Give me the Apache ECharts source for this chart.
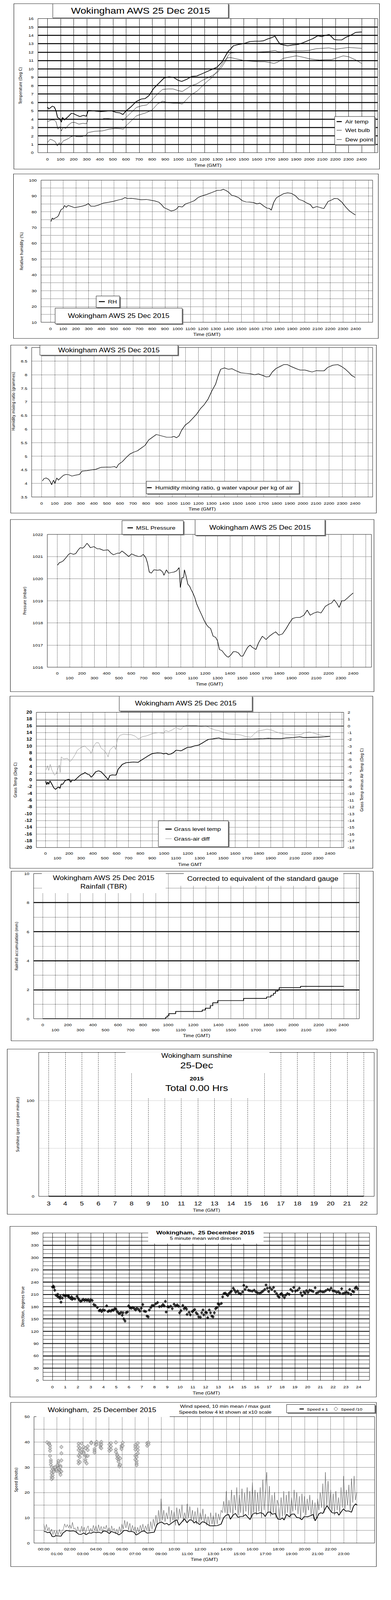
<!DOCTYPE html>
<html><head><meta charset="utf-8">
<meta name="viewport" content="width=1000, initial-scale=1">
<script src="https://cdn.jsdelivr.net/npm/echarts@6.0.0/dist/echarts.min.js"></script>
<style>
html,body{margin:0;padding:0;background:#fff;}
body{width:1000px;height:4096px;position:relative;overflow:hidden;}
/* The visible window is only 4096px tall: the 1000x5000 layout is fitted into it. */
#root{position:absolute;left:0;top:0;width:1000px;height:5000px;transform-origin:0 0;background:#fff;}
.box{position:absolute;border:1px solid #000;box-sizing:border-box;background:#fff;}
</style></head><body>
<div id="root"></div>
<script>
(function () {
  const h = window.innerHeight || 5000;
  const s = Math.min(1, h / 5000);
  document.getElementById('root').style.transform = 'scale(1,' + s + ')';
  document.body.style.height = Math.min(h, 5000) + 'px';
})();
// ---------------- DATA ----------------
const TICK100 = [0,100,200,300,400,500,600,700,800,900,1000,1100,1200,1300,1400,1500,1600,1700,1800,1900,2000,2100,2200,2300,2400];
const GRID100 = [0,100,200,300,400,500,600,700,800,900,1000,1100,1200,1300,1400,1500,1600,1700,1800,1900,2000,2100,2200,2300,2400,2500];
const HOURS_0_24 = [0,1,2,3,4,5,6,7,8,9,10,11,12,13,14,15,16,17,18,19,20,21,22,23,24];
const HOURS_0_23 = [0,1,2,3,4,5,6,7,8,9,10,11,12,13,14,15,16,17,18,19,20,21,22,23];
const SUN_HOURS = [3,4,5,6,7,8,9,10,11,12,13,14,15,16,17,18,19,20,21,22];

// Chart 1: temperatures [time GMT, deg C]
const AIR_TEMP = [[0,5.45],[10,5.2],[37,5.55],[52,5.45],[65,5.0],[77,4.2],[90,4.1],[106,3.65],[115,4.2],[129,3.9],[143,4.1],[158,4.3],[183,4.7],[200,4.65],[225,4.45],[248,4.3],[274,4.45],[297,4.35],[312,5.05],[340,5.0],[370,4.95],[408,4.9],[447,4.95],[486,5.0],[524,4.8],[553,4.75],[576,4.55],[601,5.0],[640,5.5],[678,6.1],[717,6.4],[746,6.45],[775,6.8],[813,7.7],[852,8.3],[890,8.9],[929,9.05],[967,8.95],[996,8.65],[1025,8.5],[1064,8.75],[1102,9.1],[1141,9.15],[1179,9.4],[1237,9.8],[1295,10.2],[1333,10.8],[1362,11.6],[1381,12.1],[1401,12.4],[1420,12.75],[1459,12.9],[1497,13.0],[1545,13.25],[1584,13.3],[1622,13.3],[1651,13.35],[1680,13.55],[1709,13.7],[1738,13.9],[1757,13.4],[1776,12.95],[1805,12.85],[1834,12.75],[1873,12.85],[1911,12.9],[1950,13.1],[1988,13.35],[2027,13.6],[2065,13.95],[2094,13.85],[2123,14.0],[2152,14.1],[2172,13.8],[2191,13.5],[2220,13.45],[2249,13.45],[2278,13.75],[2316,14.0],[2355,14.35],[2400,14.4]];
const WET_BULB = [[0,3.7],[30,3.9],[50,3.9],[65,3.7],[80,2.8],[95,3.1],[106,2.6],[120,3.0],[140,2.9],[160,3.3],[185,3.6],[210,3.6],[240,3.4],[270,3.5],[297,3.45],[312,4.0],[360,4.0],[400,3.95],[440,4.1],[480,4.05],[520,4.0],[560,4.0],[576,3.85],[600,4.2],[640,4.8],[680,5.4],[720,5.6],[760,5.7],[800,6.3],[840,7.0],[880,7.55],[920,7.6],[960,7.6],[1000,7.4],[1030,7.3],[1060,7.6],[1100,8.0],[1140,8.2],[1180,8.6],[1220,8.9],[1260,9.2],[1300,9.6],[1330,10.2],[1360,10.9],[1380,11.6],[1400,11.9],[1440,11.95],[1500,12.0],[1600,12.0],[1660,12.05],[1700,12.1],[1740,12.2],[1760,12.05],[1800,12.0],[1850,12.1],[1900,12.15],[1950,12.15],[2000,12.2],[2050,12.4],[2100,12.45],[2150,12.5],[2200,12.35],[2250,12.45],[2300,12.55],[2350,12.5],[2400,12.45]];
const DEW_POINT = [[0,1.2],[20,1.6],[40,1.5],[60,1.3],[75,0.8],[90,1.2],[100,0.9],[120,1.4],[150,1.6],[180,1.9],[200,2.0],[230,1.9],[260,1.9],[290,2.05],[310,2.4],[360,2.55],[420,2.6],[470,2.8],[520,2.9],[560,2.85],[580,2.8],[600,3.2],[640,3.8],[680,4.4],[720,4.6],[760,4.8],[800,5.1],[840,5.8],[880,6.15],[920,5.95],[960,5.9],[1000,5.9],[1030,5.8],[1060,6.3],[1100,6.95],[1140,7.3],[1180,7.9],[1220,8.5],[1260,9.0],[1300,9.8],[1340,10.7],[1370,11.3],[1400,11.35],[1440,11.2],[1500,11.0],[1560,10.9],[1620,10.85],[1660,10.85],[1700,10.75],[1730,10.65],[1760,10.8],[1800,11.25],[1850,11.4],[1900,11.55],[1950,11.4],[2000,11.2],[2050,11.1],[2080,11.05],[2120,11.1],[2170,11.1],[2220,11.35],[2260,11.55],[2300,11.45],[2350,11.1],[2400,10.65]];

// Chart 2: relative humidity [time, %]
const RH = [[4,73.8],[14,76],[24,75.3],[36,76],[50,76.5],[63,77.5],[75,80],[85,81.5],[99,82],[111,84],[123,82.8],[139,84],[159,83.5],[188,82.6],[218,83.0],[248,83.5],[278,84.2],[298,85.2],[317,83.5],[347,83.5],[377,84.2],[417,85.5],[456,86],[496,86.6],[536,87.5],[565,88],[585,89],[605,88.4],[635,88.5],[675,88.1],[714,87.6],[754,87.8],[794,87.2],[823,86.8],[853,86.0],[873,84.5],[893,82.6],[923,81.5],[948,80.5],[972,80.9],[992,81.8],[1008,83.4],[1036,83],[1061,84.9],[1101,86.0],[1131,87],[1161,89],[1190,90],[1230,91],[1270,92.2],[1310,93.5],[1339,93.6],[1359,94.2],[1379,93.5],[1399,92.5],[1425,90.4],[1448,90.0],[1478,89],[1508,87],[1538,86.2],[1567,86.1],[1597,85.8],[1623,85],[1647,85.5],[1677,83.6],[1702,82.3],[1722,82.1],[1736,81],[1756,86],[1776,88.8],[1806,90.2],[1835,91.5],[1865,92],[1895,91.6],[1925,90.2],[1954,87.8],[1984,87],[2014,85.6],[2044,84.5],[2063,82.4],[2093,83.3],[2123,82.6],[2149,82],[2183,86.5],[2212,87.5],[2232,88.4],[2258,88.3],[2292,86],[2321,83],[2351,80.5],[2377,79],[2397,78]];

// Chart 3: humidity mixing ratio [time, g/kg]
const MIX_RATIO = [[6,4.09],[19,4.18],[35,4.2],[54,4.15],[68,4.05],[77,3.95],[91,4.12],[102,4.0],[116,4.2],[129,4.12],[145,4.2],[168,4.3],[187,4.33],[207,4.32],[232,4.27],[257,4.3],[290,4.33],[309,4.45],[347,4.47],[386,4.5],[415,4.52],[454,4.59],[492,4.6],[531,4.6],[560,4.62],[573,4.57],[589,4.7],[618,4.8],[647,4.95],[676,5.08],[705,5.15],[734,5.2],[763,5.3],[792,5.4],[820,5.6],[849,5.7],[878,5.8],[917,5.75],[956,5.7],[994,5.7],[1014,5.73],[1033,5.68],[1052,5.75],[1071,5.95],[1100,6.15],[1129,6.25],[1158,6.4],[1187,6.55],[1216,6.75],[1245,6.9],[1274,7.1],[1303,7.4],[1332,7.65],[1351,7.95],[1371,8.2],[1400,8.25],[1429,8.2],[1458,8.22],[1486,8.15],[1525,8.07],[1564,8.05],[1602,8.03],[1631,8.0],[1660,8.03],[1689,7.98],[1718,7.92],[1743,7.93],[1766,8.1],[1795,8.23],[1824,8.3],[1853,8.37],[1882,8.37],[1911,8.3],[1950,8.22],[1979,8.17],[2017,8.17],[2046,8.13],[2071,8.1],[2104,8.15],[2133,8.14],[2162,8.14],[2191,8.27],[2230,8.35],[2268,8.37],[2297,8.3],[2326,8.2],[2355,8.07],[2374,7.97],[2400,7.9]];

// Chart 4: MSL pressure [time, mbar]
const PRESSURE = [[2,1020.61],[16,1020.72],[31,1020.75],[47,1020.8],[63,1020.9],[78,1021.0],[92,1021.1],[108,1021.15],[129,1021.1],[149,1021.13],[170,1021.3],[186,1021.4],[207,1021.38],[221,1021.45],[241,1021.6],[256,1021.5],[268,1021.4],[297,1021.45],[323,1021.35],[344,1021.35],[374,1021.28],[411,1021.3],[436,1021.15],[456,1021.08],[487,1021.15],[507,1021.15],[524,1021.25],[548,1021.15],[579,1021.0],[603,1021.12],[630,1021.05],[661,1021.0],[681,1021.02],[697,1021.1],[718,1020.95],[732,1020.7],[746,1020.3],[763,1020.25],[783,1020.4],[814,1020.38],[834,1020.4],[855,1020.3],[865,1020.15],[885,1020.4],[902,1020.25],[926,1020.28],[947,1020.3],[967,1020.35],[988,1020.5],[998,1019.6],[1012,1020.05],[1025,1020.05],[1031,1020.4],[1045,1020.1],[1059,1019.75],[1074,1019.65],[1086,1019.5],[1100,1019.35],[1115,1019.15],[1131,1018.85],[1151,1018.6],[1172,1018.35],[1192,1018.1],[1213,1017.9],[1229,1017.8],[1243,1017.75],[1264,1017.4],[1284,1017.35],[1299,1017.2],[1315,1016.8],[1335,1016.75],[1356,1016.6],[1372,1016.5],[1387,1016.45],[1407,1016.55],[1427,1016.7],[1448,1016.7],[1468,1016.65],[1489,1016.5],[1505,1016.5],[1524,1016.7],[1544,1016.9],[1564,1017.0],[1581,1016.9],[1611,1016.8],[1632,1017.1],[1663,1017.4],[1693,1017.25],[1720,1017.4],[1744,1017.5],[1771,1017.6],[1796,1017.45],[1826,1017.5],[1857,1017.75],[1883,1018.0],[1908,1018.2],[1939,1018.25],[1969,1018.25],[2000,1018.35],[2027,1018.58],[2051,1018.35],[2082,1018.45],[2112,1018.5],[2139,1018.45],[2174,1018.75],[2204,1018.85],[2225,1018.9],[2245,1019.05],[2266,1018.9],[2286,1018.7],[2307,1019.0],[2327,1019.0],[2358,1019.15],[2378,1019.25],[2399,1019.35]];

// Chart 5: grass temperature (left axis) and grass-air difference (right axis)
const GRASS_TEMP = [[2,-0.33],[11,-1.4],[19,-0.6],[27,-1.3],[38,-0.3],[48,-0.9],[59,-1.6],[69,-2.3],[84,-2.8],[97,-2.4],[112,-2.1],[122,-2.5],[133,-1.2],[145,-1.3],[164,-0.3],[185,0.1],[200,0.2],[213,-0.7],[227,0.0],[244,-0.2],[259,0.3],[280,1.0],[301,1.6],[322,1.9],[333,2.2],[354,1.7],[371,1.5],[385,0.8],[402,1.4],[423,2.4],[448,2.7],[469,2.4],[491,1.6],[512,0.8],[528,0.1],[543,1.3],[564,1.5],[592,1.4],[600,1.8],[613,3.2],[627,3.7],[648,4.6],[680,5.1],[712,5.2],[743,5.3],[781,5.2],[806,5.8],[838,6.5],[869,7.2],[901,7.8],[943,8.0],[975,7.95],[996,7.7],[1017,7.9],[1038,7.5],[1059,7.7],[1080,8.1],[1101,8.8],[1122,8.7],[1143,8.6],[1164,9.0],[1196,9.6],[1227,9.7],[1259,10.1],[1291,10.3],[1322,10.9],[1354,11.6],[1375,12.0],[1406,12.1],[1438,12.3],[1463,12.4],[1491,12.1],[1543,12.05],[1606,11.95],[1669,12.05],[1754,12.1],[1838,12.2],[1880,12.3],[1922,12.2],[1985,12.2],[2027,12.4],[2091,12.55],[2143,12.75],[2175,12.55],[2238,12.6],[2301,12.65],[2354,12.75],[2400,12.9]];
const GRASS_AIR_DIFF = [[6,-6.5],[17,-5.9],[27,-6.6],[40,-5.7],[53,-6.5],[65,-6.9],[76,-7.3],[91,-7.1],[105,-6.3],[116,-5.8],[124,-6.9],[133,-4.6],[154,-4.9],[185,-4.8],[206,-5.3],[227,-4.9],[248,-4.3],[269,-3.6],[291,-3.3],[312,-3.1],[333,-3.0],[354,-3.4],[375,-3.7],[385,-4.1],[406,-3.0],[427,-2.5],[448,-2.5],[469,-3.3],[491,-3.6],[512,-4.0],[528,-4.6],[543,-3.6],[564,-3.2],[579,-3.0],[592,-3.5],[606,-2.0],[627,-1.4],[659,-1.25],[691,-1.3],[722,-1.3],[754,-1.5],[785,-1.95],[817,-1.6],[848,-1.5],[880,-1.3],[912,-1.1],[954,-1.0],[996,-1.1],[1013,-0.7],[1038,-0.85],[1069,-0.6],[1101,-0.2],[1122,-0.45],[1143,-0.55],[1164,-0.1],[1196,0.1],[1227,0.05],[1269,0.05],[1312,-0.1],[1354,0.0],[1385,-0.3],[1427,-0.6],[1459,-0.7],[1501,-0.95],[1543,-1.2],[1596,-1.25],[1648,-1.35],[1691,-1.6],[1733,-1.7],[1754,-1.3],[1785,-0.8],[1827,-0.65],[1869,-0.5],[1912,-0.65],[1943,-0.9],[1985,-1.1],[2027,-1.25],[2069,-1.3],[2112,-1.35],[2154,-1.3],[2185,-1.0],[2227,-0.9],[2269,-1.1],[2311,-1.35],[2354,-1.5],[2396,-1.55]];

// Chart 6: rainfall accumulation [time, mm]
const RAIN_ACCUM = [[0,0],[980,0.1],[992,0.2],[1006,0.35],[1060,0.5],[1272,0.6],[1296,0.72],[1336,0.9],[1356,1.1],[1396,1.25],[1602,1.4],[1786,1.5],[1820,1.62],[1840,1.75],[1856,1.9],[1876,2.0],[1886,2.14],[2056,2.23],[2400,2.23]];

// Chart 7: sunshine (per cent per minute), by hour
const SUNSHINE = [0,0,0,0,0,0,0,0,0,0,0,0,0,0,0,0,0,0,0,0];

// Chart 8: 5 minute mean wind direction [hour, degrees]
const WIND_DIR = [[0.0,228],[0.08,230],[0.12,227],[0.18,220],[0.28,208],[0.4,205],[0.42,210],[0.5,203],[0.6,200],[0.62,205],[0.67,191],[0.77,201],[0.87,208],[0.99,206],[1.07,207],[1.23,205],[1.25,207],[1.32,203],[1.42,200],[1.5,204],[1.54,198],[1.62,200],[1.76,199],[1.92,205],[2.02,200],[2.11,196],[2.21,193],[2.31,195],[2.41,198],[2.51,195],[2.61,197],[2.71,195],[2.81,197],[2.91,193],[3.0,197],[3.12,195],[3.24,185],[3.36,183],[3.52,178],[3.66,170],[3.75,172],[3.85,168],[3.95,172],[4.09,171],[4.25,182],[4.35,168],[4.45,170],[4.58,169],[4.68,172],[4.78,171],[4.88,175],[4.98,174],[5.08,168],[5.18,164],[5.28,163],[5.38,166],[5.47,159],[5.53,165],[5.59,150],[5.69,145],[5.77,165],[5.87,167],[5.97,182],[6.07,178],[6.17,176],[6.3,178],[6.42,175],[6.52,172],[6.62,176],[6.76,173],[6.86,169],[6.96,176],[7.08,185],[7.19,169],[7.31,168],[7.41,157],[7.51,155],[7.59,172],[7.71,178],[7.81,183],[7.94,183],[8.1,187],[8.24,190],[8.38,180],[8.54,181],[8.66,185],[8.76,182],[8.85,193],[8.91,167],[9.03,180],[9.13,179],[9.27,181],[9.39,175],[9.53,186],[9.66,182],[9.78,184],[9.88,181],[9.96,165],[10.08,170],[10.22,183],[10.32,175],[10.42,178],[10.51,174],[10.55,161],[10.71,166],[10.81,160],[10.95,168],[11.05,170],[11.15,173],[11.26,165],[11.36,162],[11.46,155],[11.6,154],[11.7,165],[11.8,172],[11.86,160],[12.0,166],[12.09,165],[12.17,153],[12.29,172],[12.39,165],[12.49,157],[12.59,155],[12.69,165],[12.79,175],[12.89,178],[12.98,187],[13.08,185],[13.24,188],[13.34,204],[13.44,212],[13.54,213],[13.64,210],[13.74,207],[13.83,212],[13.93,215],[14.03,218],[14.17,225],[14.27,220],[14.37,215],[14.51,218],[14.62,213],[14.76,211],[14.9,216],[15.0,232],[15.1,222],[15.22,228],[15.36,220],[15.49,219],[15.65,218],[15.81,220],[15.95,216],[16.09,214],[16.25,213],[16.38,215],[16.5,218],[16.64,222],[16.74,233],[16.84,225],[16.94,217],[17.04,226],[17.19,222],[17.33,227],[17.43,217],[17.57,212],[17.67,206],[17.77,203],[17.87,210],[17.96,212],[18.06,207],[18.18,202],[18.28,208],[18.42,212],[18.56,210],[18.68,222],[18.81,218],[18.91,227],[19.05,218],[19.21,220],[19.35,225],[19.47,214],[19.57,207],[19.7,216],[19.8,213],[19.9,219],[20.04,215],[20.16,220],[20.3,219],[20.43,217],[20.59,226],[20.69,213],[20.83,215],[20.99,218],[21.15,216],[21.28,216],[21.42,219],[21.58,222],[21.72,220],[21.84,225],[21.98,219],[22.12,218],[22.27,215],[22.41,216],[22.53,213],[22.67,224],[22.77,212],[22.92,214],[23.06,215],[23.2,213],[23.3,222],[23.4,210],[23.52,218],[23.62,216],[23.72,225],[23.81,228],[23.91,224]];

// Chart 9: wind speed, knots
const WIND_MEAN = [[0,4.6],[0.15,4.5],[0.29,4.1],[0.44,4.3],[0.54,3.7],[0.64,2.6],[0.77,2.5],[0.93,2.9],[1.12,2.8],[1.32,2.7],[1.47,4.0],[1.61,4.5],[1.74,5.0],[1.99,4.7],[2.28,4.8],[2.48,4.4],[2.67,3.5],[2.86,3.4],[3.06,4.0],[3.25,3.3],[3.44,4.0],[3.64,3.9],[3.83,4.4],[4.02,4.1],[4.22,4.3],[4.41,3.9],[4.6,4.8],[4.8,4.6],[5.03,3.7],[5.18,4.6],[5.38,4.2],[5.57,3.9],[5.76,3.2],[5.96,3.9],[6.15,5.0],[6.34,5.0],[6.54,4.5],[6.73,4.6],[6.92,4.3],[7.08,3.2],[7.27,3.7],[7.5,4.6],[7.7,4.8],[7.93,3.9],[8.18,4.1],[8.47,4.3],[8.67,7.3],[8.86,8.0],[9.05,8.3],[9.25,7.5],[9.44,7.8],[9.59,7.1],[9.83,8.0],[10.02,8.7],[10.21,9.2],[10.37,7.0],[10.6,8.4],[10.79,9.6],[10.99,8.0],[11.18,9.2],[11.37,9.0],[11.53,7.9],[11.66,8.5],[11.95,7.3],[12.15,8.4],[12.34,8.2],[12.53,7.5],[12.73,6.8],[13.02,6.8],[13.31,6.9],[13.6,7.5],[13.79,10.0],[13.98,11.0],[14.18,11.3],[14.31,9.4],[14.51,11.0],[14.7,11.7],[14.89,10.2],[15.09,10.5],[15.28,10.5],[15.47,11.3],[15.67,10.1],[15.82,9.3],[16.02,11.4],[16.21,11.9],[16.4,11.6],[16.6,12.0],[16.83,11.6],[16.98,10.5],[17.18,12.2],[17.37,12.3],[17.52,11.4],[17.76,11.7],[17.95,9.5],[18.14,9.3],[18.3,10.0],[18.43,9.1],[18.63,11.4],[18.82,10.4],[19.01,11.4],[19.21,11.5],[19.4,10.1],[19.59,10.0],[19.79,9.2],[19.98,10.5],[20.23,10.4],[20.46,10.8],[20.66,11.3],[20.81,8.8],[20.95,10.0],[21.09,11.5],[21.25,12.0],[21.4,11.7],[21.53,13.0],[21.72,14.8],[21.91,13.3],[22.11,12.0],[22.3,11.8],[22.5,12.2],[22.63,11.0],[22.79,12.2],[22.98,13.5],[23.17,12.6],[23.37,12.7],[23.6,12.2],[23.75,14.5],[23.91,15.5],[24.04,15.0]];
// max gust, every 0.1 hour from 00:00
const GUST_STEP_H = 0.1;
const WIND_GUST = [
7.5,5.2,7.4,5.0,6.2,4.2,5.5,3.3,5.0,3.0,
5.0,3.2,5.4,3.5,4.8,5.5,7.6,6.2,7.3,6.0,
7.2,5.8,8.2,5.5,6.0,4.0,6.5,5.0,4.2,6.7,
4.5,6.3,3.6,5.8,6.8,4.2,5.8,4.5,7.0,5.0,
6.8,4.5,7.2,5.0,6.6,4.2,6.5,5.5,7.0,4.5,
6.2,4.0,6.8,5.0,5.8,3.6,5.5,3.8,6.5,4.2,
7.5,5.5,9.0,6.0,8.5,5.2,7.8,4.5,7.0,5.0,
6.5,3.8,6.2,4.2,7.0,5.0,7.5,4.5,6.8,5.2,
7.5,4.5,8.5,5.5,9.5,6.5,11.0,7.0,13.0,8.0,
17.5,9.0,13.0,8.5,12.0,9.5,14.5,8.0,13.0,9.0,
12.5,7.0,14.0,9.0,13.5,10.0,15.2,8.5,12.0,9.5,
15.5,10.0,14.5,9.0,13.0,8.5,12.5,7.5,14.0,8.0,
12.0,9.0,13.5,8.0,11.5,7.0,10.5,7.0,12.0,7.5,
11.0,7.0,12.0,7.5,11.5,9.0,13.0,12.0,16.5,12.0,
20.5,11.0,17.0,12.0,21.0,10.5,19.0,13.0,22.0,11.0,
19.0,12.0,21.5,10.5,20.0,12.5,22.0,11.0,20.5,10.0,
24.0,12.0,21.0,11.0,20.0,12.5,22.0,10.0,25.0,13.0,
21.0,28.0,12.0,22.5,10.5,19.0,12.0,20.0,10.0,17.0,
15.0,9.5,18.0,10.5,20.5,11.0,19.0,12.0,20.5,10.0,
18.0,12.5,21.0,13.0,20.0,11.5,18.5,9.5,19.5,12.0,
18.5,11.0,17.5,13.0,19.0,11.0,17.0,9.5,16.0,10.0,
17.5,13.0,20.0,14.0,23.5,12.0,28.0,15.0,24.5,13.5,
21.0,12.5,19.5,11.0,20.5,13.0,18.0,12.0,22.0,14.0,
26.5,13.5,21.0,15.0,23.0,13.0,25.5,16.0,26.5,17.0,
20.0];
// speeds below 4 kt shown at x10 scale [hour, speed x10]
const WIND_LOW_X10 = [[0.25,39.8],[0.41,39.5],[0.41,39.0],[0.48,38.5],[0.48,37.5],[0.48,36.5],[0.48,34.5],[0.54,32.8],[0.54,32],[0.54,31],[0.6,30],[0.6,28.5],[0.6,27.5],[0.6,26.2],[0.6,25.3],[0.68,26.8],[0.68,25.8],[0.77,29.8],[0.77,28.8],[0.77,28.2],[0.87,29.5],[0.87,30.0],[0.97,28.6],[0.97,29.2],[1.06,30.5],[1.06,31.0],[1.12,29.5],[1.12,31.8],[1.12,32.5],[1.2,29.0],[1.2,28.0],[1.28,27.0],[1.28,28.5],[1.28,30.5],[1.28,30.0],[1.35,32.7],[1.35,38.0],[1.35,35.5],[1.35,28.3],[2.67,39.3],[2.67,38.2],[2.67,36.8],[2.67,34.5],[2.67,32.5],[2.67,31.5],[2.77,37.5],[2.77,35.5],[2.77,34.0],[2.77,32.0],[2.9,39.4],[2.9,37.0],[2.9,35.8],[3.06,38.0],[3.06,36.0],[3.06,35.5],[3.19,37.5],[3.19,34.5],[3.19,33.0],[3.19,32.2],[3.29,34.5],[3.29,31.5],[3.37,38.3],[3.37,36.8],[3.37,34.5],[3.64,39.8],[3.64,39.5],[3.89,37.2],[3.89,36.5],[3.89,35.8],[3.98,39.5],[3.98,38.8],[4.06,40.0],[4.06,39.0],[4.35,39.5],[4.35,38.5],[4.35,37.8],[4.41,40.0],[4.41,39.0],[4.41,37.5],[5.03,39.0],[5.03,37.5],[5.03,36.5],[5.15,39.5],[5.15,38.2],[5.15,37.0],[5.53,39.8],[5.53,37.0],[5.53,36.0],[5.63,35.0],[5.63,34.5],[5.63,33.5],[5.73,34.0],[5.73,33.0],[5.73,32.2],[5.8,30.8],[5.8,30.3],[5.86,33.5],[5.86,31.0],[5.96,38.5],[5.96,37.8],[5.96,37.2],[6.05,39.7],[6.05,38.5],[7.02,38.8],[7.02,38.0],[7.02,37.0],[7.02,34.5],[7.02,33.0],[7.12,35.0],[7.12,34.0],[7.12,32.5],[7.12,31.5],[7.12,30.8],[7.21,39.5],[7.21,38.0],[7.21,36.8],[7.21,35.5],[7.93,38.5],[7.93,39.5],[8.03,39.7],[8.03,39.0]];

// ---------------- HELPERS ----------------
const F = "'Liberation Sans', Arial, Helvetica, sans-serif";
const FN = "'DejaVu Sans', Verdana, sans-serif";
const ROOT = document.getElementById('root');

function panel(L, T, W, H) {
  const d = document.createElement('div');
  d.className = 'box';
  d.style.left = L + 'px'; d.style.top = T + 'px';
  d.style.width = W + 'px'; d.style.height = H + 'px';
  ROOT.appendChild(d);
  const c = echarts.init(d, null, { renderer: 'svg', width: W - 2, height: H - 2 });
  return { c: c, X: v => v - L - 1, Y: v => v - T - 1 };
}
function frame(p, x0, y0, x1, y1) {
  return { left: p.X(x0), top: p.Y(y0), width: x1 - x0, height: y1 - y0, show: true,
    borderColor: '#000', borderWidth: 1, backgroundColor: 'rgba(0,0,0,0)', containLabel: false };
}
function lbl(extra) { return Object.assign({ color: '#000', fontSize: 12, fontFamily: F }, extra || {}); }
const plain = v => '' + v;
function xTime(min, max, labels, lines, margin, lineStyle, name, nameGap, fmt, lblExtra) {
  const al = lbl(Object.assign({ customValues: labels, margin: margin, lineHeight: 15 }, lblExtra || {}));
  al.formatter = fmt || plain;
  return { type: 'value', min: min, max: max,
    axisLine: { show: false }, axisTick: { show: false, customValues: lines },
    axisLabel: al, splitLine: { show: true, lineStyle: lineStyle },
    name: name, nameLocation: 'middle', nameGap: nameGap,
    nameTextStyle: { color: '#000', fontSize: 13, fontFamily: F } };
}
function yVal(min, max, interval, lineStyle, name, nameGap, fmt, lblExtra) {
  const al = lbl(Object.assign({ margin: 11 }, lblExtra || {}));
  al.formatter = fmt || plain;
  return { type: 'value', min: min, max: max, interval: interval, position: 'left',
    axisLine: { show: false }, axisTick: { show: false }, axisLabel: al,
    splitLine: { show: !!lineStyle, lineStyle: lineStyle || {}, showMinLine: false, showMaxLine: false },
    name: name, nameLocation: 'middle', nameGap: nameGap,
    nameTextStyle: { color: '#000', fontSize: 11, fontFamily: FN } };
}
function box(p, x0, y0, x1, y1, border, shadow) {
  const els = [];
  if (shadow) els.push({ type: 'rect', silent: true, z: 100,
    shape: { x: p.X(x0) + 3, y: p.Y(y0) + 3, width: x1 - x0, height: y1 - y0 }, style: { fill: '#808080' } });
  els.push({ type: 'rect', silent: true, z: 101,
    shape: { x: p.X(x0), y: p.Y(y0), width: x1 - x0, height: y1 - y0 },
    style: { fill: '#fff', stroke: border ? '#000' : null, lineWidth: 1 } });
  return els;
}
function txt(p, x, y, s, size, align, weight) {
  return { type: 'text', silent: true, z: 102, x: p.X(x), y: p.Y(y),
    style: { text: s, fill: '#000', fontSize: size, fontFamily: F, fontWeight: weight || 'normal',
      align: align || 'center', verticalAlign: 'middle' } };
}
function seg(p, x1, x2, y, w, color) {
  return { type: 'line', silent: true, z: 102,
    shape: { x1: p.X(x1), y1: p.Y(y), x2: p.X(x2), y2: p.Y(y) },
    style: { stroke: color || '#000', lineWidth: w } };
}
function lineSeries(name, data, width, color, yIdx, extra) {
  return Object.assign({ type: 'line', name: name, data: data, symbol: 'none', yAxisIndex: yIdx || 0,
    lineStyle: { color: color || '#000', width: width }, itemStyle: { color: color || '#000' },
    z: 3, animation: false }, extra || {});
}
const twoRow100 = v => ((Math.round(v / 100) % 2 === 1) ? '\n' : '') + v;
const SOLID = { color: '#000', width: 1, type: 'solid' };
const DOT = { color: '#000', width: 1, type: 'dotted' };
const TITLE = 'Wokingham AWS 25 Dec 2015';

// ---------------- CHART 1: Temperature ----------------
(function () {
  const p = panel(35, 11, 936, 518);
  p.c.setOption({
    animation: false,
    grid: frame(p, 97, 58, 966, 486),
    xAxis: xTime(-73, 2523, TICK100, GRID100, 13, SOLID, 'Time (GMT)', 30.5),
    yAxis: yVal(0, 16, 1, { color: '#000', width: 3 }, 'Temperature (Deg C)', 39),
    series: [
      lineSeries('Air temp', AIR_TEMP, 2),
      lineSeries('Wet bulb', WET_BULB, 1),
      lineSeries('Dew point', DEW_POINT, 1)
    ],
    graphic: { elements: [].concat(
      box(p, 135, 11, 584, 56, true, true),
      [txt(p, 359.5, 34, TITLE, 26)],
      box(p, 856, 364, 958, 452, true, true),
      [seg(p, 861, 874, 380, 3), txt(p, 883, 380, 'Air temp', 16, 'left'),
       seg(p, 861, 874, 407, 1), txt(p, 883, 407, 'Wet bulb', 16, 'left'),
       seg(p, 861, 874, 436, 1), txt(p, 883, 436, 'Dew point', 16, 'left')]
    ) }
  });
})();

// ---------------- CHART 2: Relative humidity ----------------
(function () {
  const p = panel(34, 543, 934, 515);
  p.c.setOption({
    animation: false,
    grid: frame(p, 105, 563, 953, 1015),
    xAxis: xTime(-74, 2533, TICK100, GRID100, 12, DOT, 'Time (GMT)', 29.5),
    yAxis: yVal(10, 100, 5, DOT, 'Relative humidity (%)', 44, v => (v % 10 === 0 ? '' + v : '')),
    series: [lineSeries('RH', RH, 1.5)],
    graphic: { elements: [].concat(
      box(p, 246, 925, 306, 961, true, true),
      [seg(p, 253, 268, 942.5, 3), txt(p, 276, 942.5, 'RH', 16, 'left')],
      box(p, 141, 963, 466, 1012, true, true),
      [txt(p, 303.5, 987.5, TITLE, 19)]
    ) }
  });
})();

// ---------------- CHART 3: Humidity mixing ratio ----------------
(function () {
  const p = panel(27, 1078, 936, 526);
  const ya = yVal(3.5, 9, 0.5, DOT, '', 41);
  p.c.setOption({
    animation: false,
    grid: frame(p, 81, 1086, 953, 1554),
    xAxis: xTime(-76, 2534, TICK100, GRID100, 12, DOT, 'Time (GMT)', 29.5),
    yAxis: ya,
    series: [lineSeries('Humidity mixing ratio, g water vapour per kg of air', MIX_RATIO, 1.5)],
    graphic: { elements: [].concat(
      box(p, 102, 1078, 455, 1110, true, true),
      [txt(p, 278.5, 1094, TITLE, 19)],
      box(p, 374, 1504, 765, 1543, true, true),
      [seg(p, 376, 388, 1524, 3), txt(p, 397, 1524, 'Humidity mixing ratio, g water vapour per kg of air', 16, 'left'),
       { type: 'text', silent: true, z: 102, x: p.X(34), y: p.Y(1254), rotation: Math.PI / 2,
         style: { text: 'Humidity mixing ratio (grammes)', fill: '#000', fontSize: 11, fontFamily: FN,
           align: 'center', verticalAlign: 'middle' } }]
    ) }
  });
})();

// ---------------- CHART 4: MSL pressure ----------------
(function () {
  const p = panel(26, 1623, 931, 539);
  p.c.setOption({
    animation: false,
    grid: frame(p, 121, 1670, 950, 2085),
    xAxis: xTime(-81, 2548, TICK100, GRID100, 11.5, DOT, 'Time (GMT)', 46.5, twoRow100),
    yAxis: yVal(1016, 1022, 1, DOT, 'Pressure (mbar)', 52),
    series: [lineSeries('MSL Pressure', PRESSURE, 1.5)],
    graphic: { elements: [].concat(
      box(p, 312, 1627, 469, 1670, true, true),
      [seg(p, 326, 340, 1649.5, 3), txt(p, 348, 1649.5, 'MSL Pressure', 16, 'left')],
      box(p, 499, 1623, 831, 1673, true, true),
      [txt(p, 665, 1648.5, TITLE, 19)]
    ) }
  });
})();

// ---------------- CHART 5: Grass temperature ----------------
(function () {
  const p = panel(25, 2175, 929, 539);
  const yl = yVal(-20, 20, 2, DOT, 'Grass Temp (Deg C)', 48, null, { fontWeight: 'bold', fontSize: 13 });
  const yr = yVal(-18, 2, 1, null, 'Grass Temp minus Air Temp (Deg C)', 41, null, { margin: 10 });
  yr.position = 'right';
  p.c.setOption({
    animation: false,
    grid: frame(p, 84, 2226, 879, 2655),
    xAxis: xTime(-77, 2515, TICK100, GRID100, 10.5, DOT, 'Time GMT', 46.5, twoRow100),
    yAxis: [yl, yr],
    series: [
      lineSeries('Grass-air diff', GRASS_AIR_DIFF, 1, '#808080', 1),
      lineSeries('Grass level temp', GRASS_TEMP, 2, '#000', 0, {
        markLine: { silent: true, symbol: 'none', animation: false, label: { show: false },
          lineStyle: { color: '#000', width: 2, type: 'solid' }, data: [{ yAxis: 0 }, { yAxis: 16 }] } })
    ],
    graphic: { elements: [].concat(
      box(p, 305, 2175, 645, 2222, true, true),
      [txt(p, 475, 2198.5, TITLE, 19)],
      box(p, 405, 2565, 584, 2646, true, true),
      [seg(p, 423, 439, 2591, 3), txt(p, 445, 2591, 'Grass level temp', 16, 'left'),
       seg(p, 423, 439, 2621, 1, '#808080'), txt(p, 445, 2621, 'Grass-air diff', 16, 'left')]
    ) }
  });
})();

// ---------------- CHART 6: Rainfall ----------------
(function () {
  const p = panel(28, 2722, 927, 531);
  const y0 = yVal(0, 10, 1, DOT, 'Rainfall accumulation (mm)', 38, v => (v % 2 === 0 ? '' + v : ''));
  const y1 = yVal(0, 10, 2, { color: '#000', width: 3 }, '', 0, () => '');
  y1.axisLabel.show = false;
  p.c.setOption({
    animation: false,
    grid: frame(p, 81, 2730, 919, 3183.5),
    xAxis: xTime(-73, 2525, TICK100, GRID100, 12, DOT, 'Time (GMT)', 46, twoRow100),
    yAxis: [y0, y1],
    series: [lineSeries('Rainfall (TBR)', RAIN_ACCUM, 2, '#000', 0, { step: 'end' })],
    graphic: { elements: [].concat(
      box(p, 107, 2729, 424, 2791, false, false),
      box(p, 440, 2731, 878, 2768, false, false),
      box(p, 470, 2728, 878, 2732, false, false),
      [txt(p, 265, 2744, TITLE, 19), txt(p, 265, 2770, 'Rainfall (TBR)', 19),
       txt(p, 672, 2746, 'Corrected to equivalent of the standard gauge', 19)]
    ) }
  });
})();

// ---------------- CHART 7: Sunshine ----------------
(function () {
  const p = panel(18, 3278, 947, 517);
  p.c.setOption({
    animation: false,
    grid: frame(p, 99, 3289, 957, 3743),
    xAxis: xTime(2.4, 22.63, SUN_HOURS, SUN_HOURS, 15, { color: '#000', width: 1, type: [3, 3] },
      'Time (GMT)', 37.5, null, { fontSize: 18 }),
    yAxis: yVal(0, 150, 50, { color: '#999', width: 1, type: 'dotted' }, 'Sunshine (per cent per minute)', 48,
      v => ((v === 0 || v === 100) ? '' + v : '')),
    series: [lineSeries('Sunshine', SUN_HOURS.map((h, i) => [h, SUNSHINE[i]]), 3)],
    graphic: { elements: [].concat(
      box(p, 321, 3288, 689, 3353, false, false),
      box(p, 340, 3353, 670, 3430, false, false),
      [txt(p, 503, 3299, 'Wokingham sunshine', 19), txt(p, 503, 3329, '25-Dec', 26),
       txt(p, 503, 3371, '2015', 16, 'center', 'bold'), txt(p, 503, 3400, 'Total 0.00 Hrs', 26)]
    ) }
  });
})();

// ---------------- CHART 8: Wind direction ----------------
(function () {
  const p = panel(25, 3832, 938, 534);
  const y0 = yVal(0, 360, 10, SOLID, '', 0, () => '');
  y0.axisLabel.show = false;
  const y1 = yVal(0, 360, 30, { color: '#000', width: 2.5 }, 'Direction, degrees true', 46);
  p.c.setOption({
    animation: false,
    grid: frame(p, 110, 3853, 945, 4317.5),
    xAxis: xTime(-0.74, 24.85, HOURS_0_24, HOURS_0_24, 13.5, SOLID, 'Time (GMT)', 30),
    yAxis: [y0, y1],
    series: [{ type: 'scatter', name: 'Direction', data: WIND_DIR, symbol: 'diamond', symbolSize: [8, 11],
      yAxisIndex: 1, itemStyle: { color: '#000' }, z: 3, animation: false }],
    graphic: { elements: [].concat(
      box(p, 379, 3851, 674, 3886, false, false),
      [txt(p, 525, 3851, 'Wokingham,  25 December 2015', 16.5, 'center', 'bold'),
       txt(p, 525.5, 3870, '5 minute mean wind direction', 14)]
    ) }
  });
})();

// ---------------- CHART 9: Wind speed ----------------
(function () {
  const p = panel(27, 4382, 936, 514);
  const hh = v => ((v % 2 === 1) ? '\n' : '') + (v < 10 ? '0' : '') + v + ':00';
  p.c.setOption({
    animation: false,
    grid: frame(p, 86, 4427, 958, 4822),
    xAxis: xTime(-0.75, 25.37, HOURS_0_23, HOURS_0_24, 10.5, DOT, 'Time (GMT)', 44.5, hh),
    yAxis: yVal(0, 50, 5, DOT, 'Speed (knots)', 40, v => (v % 10 === 0 ? '' + v : '')),
    series: [
      lineSeries('Max gust', WIND_GUST.map((v, i) => [i * GUST_STEP_H, v]), 1, '#505050'),
      lineSeries('Speed x 1', WIND_MEAN, 2, '#000'),
      { type: 'scatter', name: 'Speed /10', data: WIND_LOW_X10, symbol: 'diamond', symbolSize: [9, 12],
        itemStyle: { color: '#c8c8c8', borderColor: '#404040', borderWidth: 1 }, z: 4, animation: false }
    ],
    graphic: { elements: [].concat(
      box(p, 93, 4425.5, 434, 4428.5, false, false),
      [txt(p, 261, 4406, 'Wokingham,  25 December 2015', 19),
       txt(p, 576, 4394, 'Wind speed, 10 min mean / max gust', 14),
       txt(p, 576, 4413, 'Speeds below 4 kt shown at x10 scale', 14)],
      box(p, 733, 4389, 959, 4415, true, true),
      [seg(p, 766, 777, 4403, 3), txt(p, 785, 4403, 'Speed x 1', 12, 'left'),
       { type: 'polygon', silent: true, z: 102,
         shape: { points: [[p.X(859), p.Y(4397)], [p.X(864), p.Y(4403)], [p.X(859), p.Y(4409)], [p.X(854), p.Y(4403)]] },
         style: { fill: '#fff', stroke: '#404040', lineWidth: 1 } },
       txt(p, 872, 4403, 'Speed /10', 12, 'left')]
    ) }
  });
})();
</script>
</body></html>
